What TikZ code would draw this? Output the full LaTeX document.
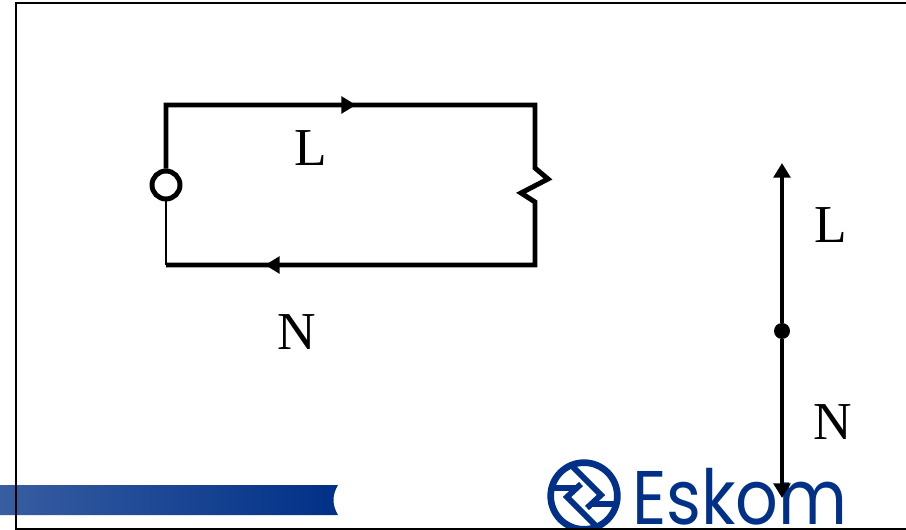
\documentclass[tikz,border=0pt]{standalone}
\usepackage{fontspec}
\usepackage{graphicx}
\setmainfont{Liberation Serif}
\newfontfamily\logofont{Poppins}
\usetikzlibrary{arrows.meta}
\definecolor{eskomblue}{RGB}{0,48,135}
\tikzset{
	wire/.style={line width=3.7pt},
	thin wire/.style={line width=1.1pt},
	flow/.style={line width=3.7pt, -{Triangle[length=11pt, width=12.5pt]}},
	source/.style={circle, draw, fill=white, line width=3.7pt, minimum size=21pt, inner sep=0pt},
	junction/.style={circle, fill=black, minimum size=12pt, inner sep=0pt},
	label/.style={font=\fontsize{40}{40}\selectfont, inner sep=0pt},
	emblem line/.style={eskomblue, line width=4.4pt}
}
\begin{document}
\begin{tikzpicture}[x=0.75pt, y=-0.75pt]
	\useasboundingbox (0,0) rectangle (906,530);

	% band
	\shade[left color=eskomblue!78!white, right color=eskomblue] (0,485) -- (338,485)
		.. controls (332,495) and (332,505) .. (338,515) -- (0,515) -- cycle;

	% logo
	\node[anchor=base west, inner sep=0pt, text=eskomblue, font=\logofont\fontsize{57}{57}\selectfont] (brand) at (632,524) {\scalebox{.88}[1]{Eskom}};
	\begin{scope}
		\clip (0,0) rectangle (906,529);
		\node[circle, draw=eskomblue, line width=5pt, minimum size=50pt, inner sep=0pt] (emblem) at (584,496) {};
		\begin{scope}[shift={(584,496)}]
			\clip (0,0) circle (33);
			\draw[emblem line] (-16,-34) -- (17,-1) -- (3,12);
			\draw[emblem line] (16,34) -- (-17,1) -- (-3,-12);
			\draw[emblem line] (-34,-8) -- (-7,-8);
			\draw[emblem line] (34,8) -- (7,8);
		\end{scope}
	\end{scope}

	% frame
	\draw[line width=1.5pt] (906,3.5) -- (15.5,3.5) -- (15.5,528.5) -- (906,528.5);

	% circuit
	\node[source] (gen) at (166,185) {};
	\coordinate (tl) at (166,105);
	\coordinate (tm) at (356,105);
	\coordinate (tr) at (535,105);
	\coordinate (z1) at (535,168);
	\coordinate (z2) at (548,179);
	\coordinate (z3) at (521,193);
	\coordinate (z4) at (535,202);
	\coordinate (br) at (535,265);
	\coordinate (bm) at (265,265);
	\coordinate (bl) at (166,265);

	\draw[wire] (gen) -- (tl) -- (tr) -- (z1) -- (z2) -- (z3) -- (z4) -- (br) -- (bl);
	\draw[flow] (tl) -- (tm);
	\draw[flow] (br) -- (bm);
	\draw[thin wire] (bl) -- (gen);

	\node[label] (l1) at (311,148) {L};
	\node[label] (n1) at (297,332) {N};

	% phasor
	\node[junction] (star) at (782,331) {};
	\coordinate (up) at (782,163);
	\coordinate (down) at (782,498);
	\draw[flow] (star) -- (up);
	\draw[flow] (star) -- (down);

	\node[label] (l2) at (831,225) {L};
	\node[label] (n2) at (833,422) {N};
\end{tikzpicture}
\end{document}
